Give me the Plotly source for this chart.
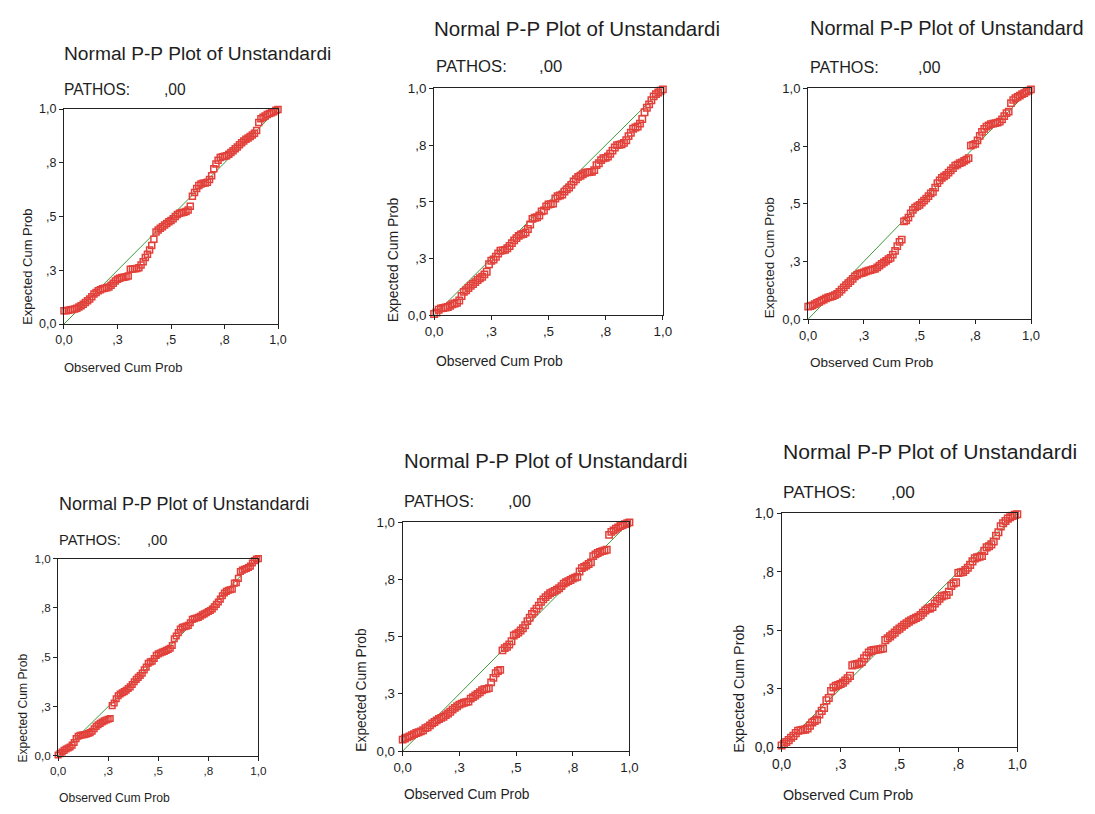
import plotly.graph_objects as go

W, H = 1095, 814

# Observed cumulative probability (shared x positions read along each chain)
observed = [0.00, 0.01, 0.02, 0.03, 0.04, 0.05, 0.06, 0.07, 0.08, 0.09,
            0.10, 0.11, 0.12, 0.13, 0.14, 0.15, 0.16, 0.17, 0.18, 0.19,
            0.20, 0.21, 0.22, 0.23, 0.24, 0.25, 0.26, 0.27, 0.28, 0.29,
            0.30, 0.31, 0.32, 0.33, 0.34, 0.35, 0.36, 0.37, 0.38, 0.39,
            0.40, 0.41, 0.42, 0.43, 0.44, 0.45, 0.46, 0.47, 0.48, 0.49,
            0.50, 0.51, 0.52, 0.53, 0.54, 0.55, 0.56, 0.57, 0.58, 0.59,
            0.60, 0.61, 0.62, 0.63, 0.64, 0.65, 0.66, 0.67, 0.68, 0.69,
            0.70, 0.71, 0.72, 0.73, 0.74, 0.75, 0.76, 0.77, 0.78, 0.79,
            0.80, 0.81, 0.82, 0.83, 0.84, 0.85, 0.86, 0.87, 0.88, 0.89,
            0.90, 0.91, 0.92, 0.93, 0.94, 0.95, 0.96, 0.97, 0.98, 0.99, 1.00]

expected_1 = [0.062, 0.062, 0.064, 0.066, 0.068, 0.070, 0.074, 0.079, 0.085, 0.092,
              0.100, 0.108, 0.117, 0.127, 0.140, 0.147, 0.155, 0.160, 0.164, 0.167,
              0.169, 0.172, 0.180, 0.190, 0.200, 0.208, 0.213, 0.216, 0.218, 0.220,
              0.224, 0.255, 0.256, 0.257, 0.258, 0.262, 0.275, 0.290, 0.310, 0.325,
              0.345, 0.365, 0.395, 0.428, 0.437, 0.446, 0.453, 0.461, 0.468, 0.476,
              0.482, 0.490, 0.500, 0.510, 0.515, 0.518, 0.520, 0.523, 0.530, 0.548,
              0.595, 0.612, 0.630, 0.645, 0.652, 0.655, 0.656, 0.660, 0.672, 0.690,
              0.722, 0.745, 0.762, 0.775, 0.778, 0.780, 0.783, 0.790, 0.798, 0.806,
              0.815, 0.824, 0.834, 0.843, 0.852, 0.860, 0.866, 0.873, 0.880, 0.887,
              0.900, 0.938, 0.955, 0.962, 0.968, 0.975, 0.979, 0.983, 0.988, 0.994, 0.998]

expected_2 = [0.005, 0.012, 0.024, 0.030, 0.032, 0.034, 0.036, 0.042, 0.048, 0.052,
              0.055, 0.065, 0.085, 0.103, 0.110, 0.120, 0.130, 0.138, 0.146, 0.155,
              0.163, 0.170, 0.180, 0.192, 0.225, 0.240, 0.246, 0.258, 0.272, 0.284,
              0.286, 0.288, 0.295, 0.305, 0.318, 0.330, 0.340, 0.350, 0.356, 0.358,
              0.365, 0.380, 0.400, 0.425, 0.430, 0.432, 0.440, 0.458, 0.462, 0.480,
              0.488, 0.490, 0.492, 0.515, 0.525, 0.528, 0.532, 0.545, 0.555, 0.563,
              0.575, 0.590, 0.600, 0.610, 0.615, 0.622, 0.628, 0.630, 0.631, 0.632,
              0.640, 0.662, 0.670, 0.684, 0.692, 0.694, 0.700, 0.712, 0.726, 0.740,
              0.750, 0.752, 0.754, 0.760, 0.772, 0.790, 0.805, 0.822, 0.828, 0.832,
              0.845, 0.865, 0.895, 0.915, 0.930, 0.948, 0.965, 0.975, 0.982, 0.990, 0.996]

expected_3 = [0.054, 0.056, 0.060, 0.065, 0.070, 0.075, 0.080, 0.085, 0.090, 0.094,
              0.097, 0.100, 0.104, 0.110, 0.118, 0.128, 0.138, 0.147, 0.156, 0.165,
              0.175, 0.185, 0.192, 0.197, 0.200, 0.203, 0.207, 0.210, 0.213, 0.216,
              0.218, 0.224, 0.232, 0.240, 0.246, 0.253, 0.260, 0.266, 0.280, 0.296,
              0.317, 0.335, 0.345, 0.424, 0.428, 0.440, 0.458, 0.474, 0.484, 0.490,
              0.495, 0.505, 0.514, 0.523, 0.533, 0.545, 0.552, 0.570, 0.590, 0.602,
              0.612, 0.619, 0.625, 0.635, 0.645, 0.655, 0.665, 0.670, 0.676, 0.680,
              0.686, 0.692, 0.698, 0.752, 0.756, 0.760, 0.775, 0.795, 0.812, 0.825,
              0.835, 0.840, 0.845, 0.848, 0.850, 0.852, 0.856, 0.866, 0.880, 0.893,
              0.900, 0.936, 0.950, 0.958, 0.964, 0.969, 0.975, 0.980, 0.986, 0.991, 0.996]

expected_4 = [0.005, 0.012, 0.020, 0.028, 0.035, 0.040, 0.045, 0.055, 0.068, 0.088,
              0.100, 0.104, 0.106, 0.108, 0.110, 0.114, 0.118, 0.125, 0.138, 0.150,
              0.158, 0.165, 0.172, 0.178, 0.182, 0.186, 0.190, 0.255, 0.268, 0.290,
              0.305, 0.314, 0.320, 0.326, 0.333, 0.342, 0.350, 0.362, 0.376, 0.388,
              0.398, 0.408, 0.420, 0.436, 0.450, 0.470, 0.477, 0.480, 0.494, 0.510,
              0.517, 0.522, 0.526, 0.530, 0.535, 0.540, 0.546, 0.560, 0.594, 0.608,
              0.625, 0.643, 0.652, 0.655, 0.658, 0.662, 0.675, 0.692, 0.696, 0.699,
              0.702, 0.708, 0.715, 0.720, 0.726, 0.732, 0.737, 0.745, 0.756, 0.768,
              0.780, 0.795, 0.812, 0.826, 0.834, 0.840, 0.842, 0.845, 0.876, 0.878,
              0.900, 0.935, 0.942, 0.946, 0.950, 0.955, 0.962, 0.978, 0.990, 0.998, 1.000]

expected_5 = [0.050, 0.055, 0.060, 0.064, 0.069, 0.074, 0.079, 0.082, 0.086, 0.091,
              0.100, 0.104, 0.112, 0.121, 0.127, 0.134, 0.140, 0.145, 0.150, 0.157,
              0.164, 0.172, 0.181, 0.189, 0.196, 0.203, 0.207, 0.211, 0.214, 0.216,
              0.229, 0.236, 0.243, 0.250, 0.257, 0.266, 0.270, 0.272, 0.275, 0.300,
              0.320, 0.340, 0.350, 0.355, 0.440, 0.450, 0.456, 0.466, 0.480, 0.505,
              0.511, 0.518, 0.527, 0.537, 0.550, 0.568, 0.583, 0.600, 0.610, 0.622,
              0.636, 0.652, 0.663, 0.673, 0.682, 0.690, 0.695, 0.700, 0.705, 0.712,
              0.721, 0.732, 0.738, 0.743, 0.748, 0.754, 0.758, 0.762, 0.785, 0.800,
              0.805, 0.811, 0.818, 0.825, 0.852, 0.860, 0.866, 0.871, 0.874, 0.877,
              0.880, 0.945, 0.958, 0.965, 0.972, 0.978, 0.984, 0.988, 0.992, 0.996, 1.000]

expected_6 = [0.007, 0.014, 0.022, 0.030, 0.040, 0.048, 0.060, 0.070, 0.072, 0.074,
              0.075, 0.080, 0.092, 0.105, 0.112, 0.118, 0.140, 0.155, 0.168, 0.200,
              0.210, 0.240, 0.255, 0.262, 0.266, 0.270, 0.276, 0.285, 0.295, 0.305,
              0.350, 0.353, 0.355, 0.358, 0.365, 0.380, 0.392, 0.405, 0.412, 0.415,
              0.417, 0.418, 0.420, 0.422, 0.458, 0.466, 0.474, 0.482, 0.490, 0.500,
              0.507, 0.515, 0.523, 0.530, 0.537, 0.543, 0.548, 0.553, 0.558, 0.565,
              0.575, 0.585, 0.592, 0.594, 0.600, 0.615, 0.625, 0.635, 0.645, 0.649,
              0.651, 0.665, 0.690, 0.700, 0.705, 0.745, 0.748, 0.750, 0.758, 0.768,
              0.780, 0.795, 0.808, 0.812, 0.815, 0.818, 0.840, 0.855, 0.860, 0.868,
              0.880, 0.905, 0.920, 0.945, 0.958, 0.968, 0.978, 0.984, 0.990, 0.994, 0.997]

expected_sets = [expected_1, expected_2, expected_3, expected_4, expected_5, expected_6]

reference_line = [0.0, 1.0]
tick_vals = [0.0, 0.25, 0.5, 0.75, 1.0]
tick_text = ["0,0", ",3", ",5", ",8", "1,0"]

titles = ["Normal P-P Plot of Unstandardi",
          "Normal P-P Plot of Unstandardi",
          "Normal P-P Plot of Unstandard",
          "Normal P-P Plot of Unstandardi",
          "Normal P-P Plot of Unstandardi",
          "Normal P-P Plot of Unstandardi"]
subtitle_label = "PATHOS:"
subtitle_value = ",00"
x_title = "Observed Cum Prob"
y_title = "Expected Cum Prob"

# panel geometry in pixels: frame (left, top, right, bottom), scale, text anchors
panels = [
    dict(frame=(55, 104, 273, 323), s=1.00, title=(53, 47), sub=(53, 84), subval=155, ytitle=(17, 265), xtitle=(53, 367)),
    dict(frame=(432, 83, 665, 314), s=1.07, title=(430, 22), sub=(432, 61), subval=537, ytitle=(390, 257), xtitle=(432, 361)),
    dict(frame=(813, 83, 1040, 318), s=1.04, title=(813, 21), sub=(813, 61), subval=923, ytitle=(773, 255), xtitle=(813, 362)),
    dict(frame=(49, 562, 253, 763), s=0.936, title=(48, 506), sub=(48, 543), subval=138, ytitle=(13, 714), xtitle=(48, 806)),
    dict(frame=(400, 525, 631, 758), s=1.06, title=(399, 463), sub=(399, 504), subval=505, ytitle=(358, 695), xtitle=(399, 802)),
    dict(frame=(786, 516, 1026, 754), s=1.10, title=(785, 453), sub=(785, 494), subval=895, ytitle=(743, 694), xtitle=(785, 803)),
]

FONT = "Liberation Sans, Arial, Helvetica, sans-serif"
TXT = "#1e1e1e"
RED = "#e2403a"
GREEN = "#3f9a3a"


def px(x):
    return x / W


def py(y):
    return 1 - y / H


fig = go.Figure()
layout = dict(
    width=W, height=H,
    margin=dict(l=0, r=0, t=0, b=0),
    paper_bgcolor="white", plot_bgcolor="white",
    showlegend=False,
    annotations=[],
)

for i, (p, yvals) in enumerate(zip(panels, expected_sets), start=1):
    xa = "x" if i == 1 else f"x{i}"
    ya = "y" if i == 1 else f"y{i}"
    left, top, right, bottom = p["frame"]
    s = p["s"]

    fig.add_trace(go.Scatter(
        x=reference_line, y=reference_line, mode="lines",
        line=dict(color=GREEN, width=1), xaxis=xa, yaxis=ya,
        hoverinfo="skip"))
    fig.add_trace(go.Scatter(
        x=observed, y=yvals, mode="markers",
        marker=dict(symbol="square-open", size=6 * s, color=RED,
                    line=dict(color=RED, width=1.5)),
        cliponaxis=False, xaxis=xa, yaxis=ya))

    axis_common = dict(
        range=[0, 1], tickmode="array", tickvals=tick_vals, ticktext=tick_text,
        ticks="outside", ticklen=4, tickwidth=1, tickcolor="#222",
        showline=True, linecolor="#222", linewidth=1.2, mirror=True,
        showgrid=False, zeroline=False,
        tickfont=dict(family=FONT, size=12.5 * s, color=TXT),
        fixedrange=True,
    )
    xkey = "xaxis" if i == 1 else f"xaxis{i}"
    ykey = "yaxis" if i == 1 else f"yaxis{i}"
    layout[xkey] = dict(axis_common, domain=[px(left), px(right)], anchor=ya)
    layout[ykey] = dict(axis_common, domain=[py(bottom), py(top)], anchor=xa)

    ann = layout["annotations"]
    ann.append(dict(text=titles[i - 1], x=px(p["title"][0]), y=py(p["title"][1]),
                    xref="paper", yref="paper", xanchor="left", yanchor="middle",
                    showarrow=False, font=dict(family=FONT, size=19.2 * s, color=TXT)))
    ann.append(dict(text=subtitle_label, x=px(p["sub"][0]), y=py(p["sub"][1]),
                    xref="paper", yref="paper", xanchor="left", yanchor="middle",
                    showarrow=False, font=dict(family=FONT, size=15.6 * s, color=TXT)))
    ann.append(dict(text=subtitle_value, x=px(p["subval"]), y=py(p["sub"][1]),
                    xref="paper", yref="paper", xanchor="left", yanchor="middle",
                    showarrow=False, font=dict(family=FONT, size=15.6 * s, color=TXT)))
    ann.append(dict(text=y_title, x=px(p["ytitle"][0]), y=py(p["ytitle"][1]),
                    xref="paper", yref="paper", xanchor="center", yanchor="middle",
                    textangle=-90, showarrow=False,
                    font=dict(family=FONT, size=13 * s, color=TXT)))
    ann.append(dict(text=x_title, x=px(p["xtitle"][0]), y=py(p["xtitle"][1]),
                    xref="paper", yref="paper", xanchor="left", yanchor="middle",
                    showarrow=False, font=dict(family=FONT, size=13 * s, color=TXT)))

fig.update_layout(**layout)
fig.write_html("out.html", post_script="document.body.style.margin='0px';")
